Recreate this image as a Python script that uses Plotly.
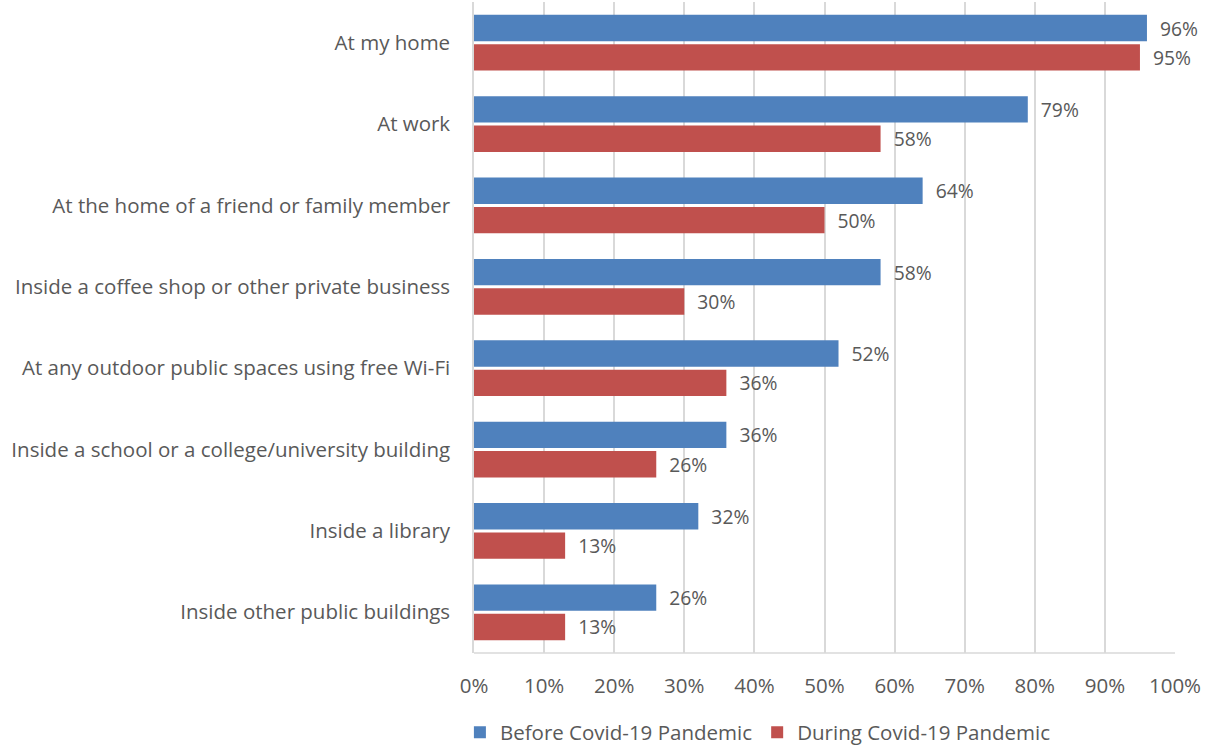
import plotly.graph_objects as go

categories = [
    "At my home",
    "At work",
    "At the home of a friend or family member",
    "Inside a coffee shop or other private business",
    "At any outdoor public spaces using free Wi-Fi",
    "Inside a school or a college/university building",
    "Inside a library",
    "Inside other public buildings",
]
before_covid = [96, 79, 64, 58, 52, 36, 32, 26]
during_covid = [95, 58, 50, 30, 36, 26, 13, 13]
tick_values = [0, 10, 20, 30, 40, 50, 60, 70, 80, 90, 100]
tick_labels = [f"{v}%" for v in tick_values]

FONT = "Open Sans"
SIZE = 20.5
TEXT_COLOR = "#595959"

fig = go.Figure()
fig.add_trace(go.Bar(
    name="Before Covid-19 Pandemic",
    y=categories, x=before_covid, orientation="h",
    marker=dict(color="#4F81BD", line=dict(width=0)),
    text=[f"{v}%" for v in before_covid],
    texttemplate="  %{text}",
    textposition="outside", cliponaxis=False,
    textfont=dict(size=SIZE, color=TEXT_COLOR, family=FONT),
))
fig.add_trace(go.Bar(
    name="During Covid-19 Pandemic",
    y=categories, x=during_covid, orientation="h",
    marker=dict(color="#C0504D", line=dict(width=0)),
    text=[f"{v}%" for v in during_covid],
    texttemplate="  %{text}",
    textposition="outside", cliponaxis=False,
    textfont=dict(size=SIZE, color=TEXT_COLOR, family=FONT),
))

fig.update_layout(
    width=1205, height=748,
    margin=dict(l=474, r=30, t=2, b=95, autoexpand=False),
    barmode="group",
    bargap=0.28, bargroupgap=0.1,
    plot_bgcolor="white", paper_bgcolor="white",
    font=dict(family=FONT, size=SIZE, color=TEXT_COLOR),
    legend=dict(
        orientation="h", x=0.405, xanchor="center",
        y=-0.122, yanchor="middle",
        font=dict(size=SIZE, color=TEXT_COLOR, family=FONT),
        itemwidth=30, tracegroupgap=0,
    ),
)
fig.update_xaxes(
    range=[0, 100], tickvals=tick_values, ticktext=tick_labels,
    showgrid=True, gridcolor="#D9D9D9", gridwidth=1.5,
    zeroline=False, showline=False, ticks="", ticklen=0,
    ticklabelstandoff=18, automargin=False,
    tickfont=dict(size=SIZE, color=TEXT_COLOR, family=FONT),
)
fig.update_yaxes(
    autorange="reversed", showgrid=False, zeroline=False,
    showline=True, linecolor="#D9D9D9", linewidth=1.5,
    ticks="", ticklabelstandoff=18, automargin=False,
    tickfont=dict(size=SIZE, color=TEXT_COLOR, family=FONT),
)
# bottom border of the plot area
fig.add_shape(type="line", xref="paper", yref="paper", x0=0, x1=1, y0=0, y1=0,
              line=dict(color="#D9D9D9", width=1.5))

fig.write_html("out.html")
